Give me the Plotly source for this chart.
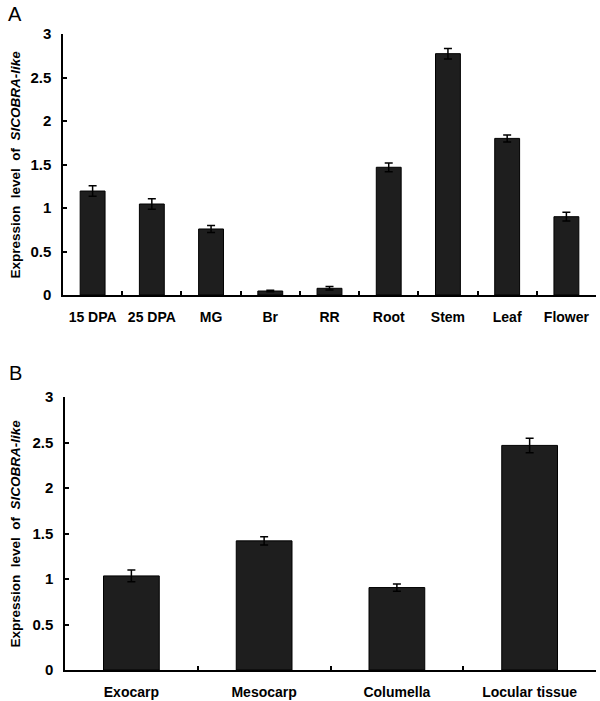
import plotly.graph_objects as go

# Panel A data
cats_a = ["15 DPA", "25 DPA", "MG", "Br", "RR", "Root", "Stem", "Leaf", "Flower"]
vals_a = [1.195, 1.046, 0.759, 0.046, 0.077, 1.468, 2.774, 1.80, 0.90]
errs_a = [0.06, 0.06, 0.04, 0.01, 0.02, 0.05, 0.06, 0.04, 0.05]

# Panel B data
cats_b = ["Exocarp", "Mesocarp", "Columella", "Locular tissue"]
vals_b = [1.034, 1.419, 0.906, 2.468]
errs_b = [0.065, 0.045, 0.04, 0.08]

y_ticks = [0, 0.5, 1, 1.5, 2, 2.5, 3]
y_ticktext = ["0", "0.5", "1", "1.5", "2", "2.5", "3"]

W, H = 600, 701
FONT = "Liberation Sans, Arial, sans-serif"

fig = go.Figure()

bar_style = dict(
    marker=dict(color="#1e1e1e", line=dict(color="#000000", width=1)),
    width=0.42,
    showlegend=False,
    hoverinfo="skip",
)
err_style = dict(type="data", visible=True, color="#000000", thickness=1.5, width=4)

fig.add_trace(go.Bar(x=cats_a, y=vals_a, error_y=dict(array=errs_a, **err_style),
                     xaxis="x", yaxis="y", **bar_style))
fig.add_trace(go.Bar(x=cats_b, y=vals_b, error_y=dict(array=errs_b, **err_style),
                     xaxis="x2", yaxis="y2", **bar_style))

def px_x(p):
    return p / W

def px_y(p):
    return 1 - p / H

xaxis_common = dict(
    showline=True, linecolor="#000000", linewidth=1.5,
    ticks="inside", ticklen=4, tickwidth=1.5, tickcolor="#000000",
    tickson="boundaries", showgrid=False, zeroline=False,
    tickfont=dict(family=FONT, size=14, color="#000000", weight="bold"),
    ticklabelstandoff=8, automargin=False,
    fixedrange=True,
)
yaxis_common = dict(
    range=[0, 3], tickvals=y_ticks, ticktext=y_ticktext,
    showline=True, linecolor="#000000", linewidth=1.5,
    ticks="inside", ticklen=4, tickwidth=1.5, tickcolor="#000000",
    showgrid=False, zeroline=False,
    tickfont=dict(family=FONT, size=15, color="#000000", weight="bold"),
    ticklabelstandoff=7, automargin=False,
    fixedrange=True,
)

fig.update_layout(
    width=W, height=H, autosize=False,
    margin=dict(l=0, r=0, t=0, b=0),
    paper_bgcolor="#ffffff", plot_bgcolor="#ffffff",
    font=dict(family=FONT, color="#000000"),
    xaxis=dict(domain=[px_x(63), px_x(596)], anchor="y", range=[-0.5, 8.5], **xaxis_common),
    yaxis=dict(domain=[px_y(295), px_y(34)], anchor="x", **yaxis_common),
    xaxis2=dict(domain=[px_x(65), px_x(596)], anchor="y2", range=[-0.5, 3.5], **xaxis_common),
    yaxis2=dict(domain=[px_y(670), px_y(397)], anchor="x2", **yaxis_common),
)

ytitle = "<b>Expression\u00a0 level\u00a0 of\u00a0 <i>SlCOBRA-like</i></b>"
for cy in [(34 + 295) / 2, (397 + 670) / 2]:
    fig.add_annotation(text=ytitle, xref="paper", yref="paper", x=px_x(15), y=px_y(cy),
                       xanchor="center", yanchor="middle", textangle=-90, showarrow=False,
                       font=dict(family=FONT, size=13.5, color="#000000"))

for letter, cy in [("A", 14), ("B", 373)]:
    fig.add_annotation(text=letter, xref="paper", yref="paper", x=px_x(15), y=px_y(cy),
                       xanchor="center", yanchor="middle", showarrow=False,
                       font=dict(family=FONT, size=20, color="#000000"))

fig.write_html(
    "out.html",
    config={"displayModeBar": False},
    post_script="document.body.style.margin='0';document.body.style.overflow='hidden';",
)
